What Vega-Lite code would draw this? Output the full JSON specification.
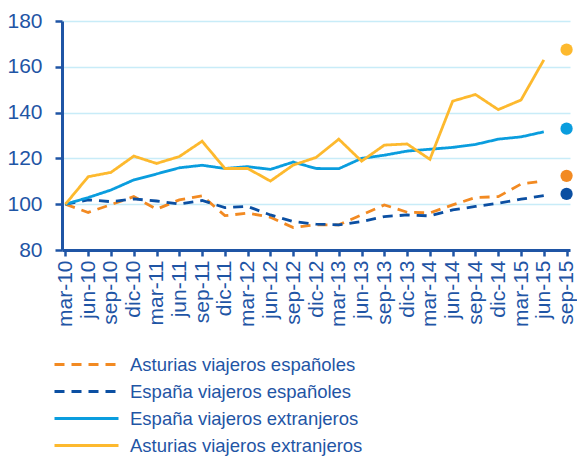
{
  "$schema": "https://vega.github.io/schema/vega-lite/v6.json",
  "autosize": {"type": "none"},
  "padding": {"left": 62, "top": 21, "right": 7, "bottom": 207},
  "width": 508,
  "height": 229,
  "background": "white",
  "config": {
    "view": {"stroke": null},
    "font": "Liberation Sans",
    "axis": {"labelFont": "Liberation Sans", "labelColor": "#1F55A5", "domainColor": "#1F55A5", "tickColor": "#1F55A5", "domainWidth": 3, "tickWidth": 2.5, "title": null}
  },
  "datasets": {
    "lines": [
      {"periodo": "mar-10", "serie": "Asturias viajeros españoles", "valor": 100},
      {"periodo": "jun-10", "serie": "Asturias viajeros españoles", "valor": 96.4},
      {"periodo": "sep-10", "serie": "Asturias viajeros españoles", "valor": 99.8},
      {"periodo": "dic-10", "serie": "Asturias viajeros españoles", "valor": 103.3},
      {"periodo": "mar-11", "serie": "Asturias viajeros españoles", "valor": 97.8},
      {"periodo": "jun-11", "serie": "Asturias viajeros españoles", "valor": 101.9},
      {"periodo": "sep-11", "serie": "Asturias viajeros españoles", "valor": 103.7},
      {"periodo": "dic-11", "serie": "Asturias viajeros españoles", "valor": 95},
      {"periodo": "mar-12", "serie": "Asturias viajeros españoles", "valor": 96.1},
      {"periodo": "jun-12", "serie": "Asturias viajeros españoles", "valor": 94.3},
      {"periodo": "sep-12", "serie": "Asturias viajeros españoles", "valor": 89.8},
      {"periodo": "dic-12", "serie": "Asturias viajeros españoles", "valor": 91},
      {"periodo": "mar-13", "serie": "Asturias viajeros españoles", "valor": 91},
      {"periodo": "jun-13", "serie": "Asturias viajeros españoles", "valor": 95.3},
      {"periodo": "sep-13", "serie": "Asturias viajeros españoles", "valor": 99.7},
      {"periodo": "dic-13", "serie": "Asturias viajeros españoles", "valor": 96.5},
      {"periodo": "mar-14", "serie": "Asturias viajeros españoles", "valor": 96.2},
      {"periodo": "jun-14", "serie": "Asturias viajeros españoles", "valor": 99.7},
      {"periodo": "sep-14", "serie": "Asturias viajeros españoles", "valor": 102.9},
      {"periodo": "dic-14", "serie": "Asturias viajeros españoles", "valor": 103.3},
      {"periodo": "mar-15", "serie": "Asturias viajeros españoles", "valor": 108.8},
      {"periodo": "jun-15", "serie": "Asturias viajeros españoles", "valor": 110.1},
      {"periodo": "mar-10", "serie": "España viajeros españoles", "valor": 100},
      {"periodo": "jun-10", "serie": "España viajeros españoles", "valor": 101.9},
      {"periodo": "sep-10", "serie": "España viajeros españoles", "valor": 101.1},
      {"periodo": "dic-10", "serie": "España viajeros españoles", "valor": 102.3},
      {"periodo": "mar-11", "serie": "España viajeros españoles", "valor": 101.4},
      {"periodo": "jun-11", "serie": "España viajeros españoles", "valor": 100.1},
      {"periodo": "sep-11", "serie": "España viajeros españoles", "valor": 101.6},
      {"periodo": "dic-11", "serie": "España viajeros españoles", "valor": 98.5},
      {"periodo": "mar-12", "serie": "España viajeros españoles", "valor": 99},
      {"periodo": "jun-12", "serie": "España viajeros españoles", "valor": 95.3},
      {"periodo": "sep-12", "serie": "España viajeros españoles", "valor": 92.4},
      {"periodo": "dic-12", "serie": "España viajeros españoles", "valor": 91.3},
      {"periodo": "mar-13", "serie": "España viajeros españoles", "valor": 91},
      {"periodo": "jun-13", "serie": "España viajeros españoles", "valor": 92.4},
      {"periodo": "sep-13", "serie": "España viajeros españoles", "valor": 94.6},
      {"periodo": "dic-13", "serie": "España viajeros españoles", "valor": 95.3},
      {"periodo": "mar-14", "serie": "España viajeros españoles", "valor": 94.9},
      {"periodo": "jun-14", "serie": "España viajeros españoles", "valor": 97.5},
      {"periodo": "sep-14", "serie": "España viajeros españoles", "valor": 99},
      {"periodo": "dic-14", "serie": "España viajeros españoles", "valor": 100.4},
      {"periodo": "mar-15", "serie": "España viajeros españoles", "valor": 102.2},
      {"periodo": "jun-15", "serie": "España viajeros españoles", "valor": 103.7},
      {"periodo": "mar-10", "serie": "España viajeros extranjeros", "valor": 100},
      {"periodo": "jun-10", "serie": "España viajeros extranjeros", "valor": 102.9},
      {"periodo": "sep-10", "serie": "España viajeros extranjeros", "valor": 106.2},
      {"periodo": "dic-10", "serie": "España viajeros extranjeros", "valor": 110.6},
      {"periodo": "mar-11", "serie": "España viajeros extranjeros", "valor": 113.2},
      {"periodo": "jun-11", "serie": "España viajeros extranjeros", "valor": 115.9},
      {"periodo": "sep-11", "serie": "España viajeros extranjeros", "valor": 117},
      {"periodo": "dic-11", "serie": "España viajeros extranjeros", "valor": 115.6},
      {"periodo": "mar-12", "serie": "España viajeros extranjeros", "valor": 116.4},
      {"periodo": "jun-12", "serie": "España viajeros extranjeros", "valor": 115.2},
      {"periodo": "sep-12", "serie": "España viajeros extranjeros", "valor": 118.4},
      {"periodo": "dic-12", "serie": "España viajeros extranjeros", "valor": 115.6},
      {"periodo": "mar-13", "serie": "España viajeros extranjeros", "valor": 115.5},
      {"periodo": "jun-13", "serie": "España viajeros extranjeros", "valor": 120},
      {"periodo": "sep-13", "serie": "España viajeros extranjeros", "valor": 121.4},
      {"periodo": "dic-13", "serie": "España viajeros extranjeros", "valor": 123.2},
      {"periodo": "mar-14", "serie": "España viajeros extranjeros", "valor": 124},
      {"periodo": "jun-14", "serie": "España viajeros extranjeros", "valor": 124.8},
      {"periodo": "sep-14", "serie": "España viajeros extranjeros", "valor": 126.1},
      {"periodo": "dic-14", "serie": "España viajeros extranjeros", "valor": 128.4},
      {"periodo": "mar-15", "serie": "España viajeros extranjeros", "valor": 129.4},
      {"periodo": "jun-15", "serie": "España viajeros extranjeros", "valor": 131.6},
      {"periodo": "mar-10", "serie": "Asturias viajeros extranjeros", "valor": 100},
      {"periodo": "jun-10", "serie": "Asturias viajeros extranjeros", "valor": 112},
      {"periodo": "sep-10", "serie": "Asturias viajeros extranjeros", "valor": 113.9},
      {"periodo": "dic-10", "serie": "Asturias viajeros extranjeros", "valor": 121},
      {"periodo": "mar-11", "serie": "Asturias viajeros extranjeros", "valor": 117.8},
      {"periodo": "jun-11", "serie": "Asturias viajeros extranjeros", "valor": 120.8},
      {"periodo": "sep-11", "serie": "Asturias viajeros extranjeros", "valor": 127.5},
      {"periodo": "dic-11", "serie": "Asturias viajeros extranjeros", "valor": 115.6},
      {"periodo": "mar-12", "serie": "Asturias viajeros extranjeros", "valor": 115.6},
      {"periodo": "jun-12", "serie": "Asturias viajeros extranjeros", "valor": 110.1},
      {"periodo": "sep-12", "serie": "Asturias viajeros extranjeros", "valor": 117.1},
      {"periodo": "dic-12", "serie": "Asturias viajeros extranjeros", "valor": 120.4},
      {"periodo": "mar-13", "serie": "Asturias viajeros extranjeros", "valor": 128.4},
      {"periodo": "jun-13", "serie": "Asturias viajeros extranjeros", "valor": 118.8},
      {"periodo": "sep-13", "serie": "Asturias viajeros extranjeros", "valor": 125.8},
      {"periodo": "dic-13", "serie": "Asturias viajeros extranjeros", "valor": 126.3},
      {"periodo": "mar-14", "serie": "Asturias viajeros extranjeros", "valor": 119.6},
      {"periodo": "jun-14", "serie": "Asturias viajeros extranjeros", "valor": 145},
      {"periodo": "sep-14", "serie": "Asturias viajeros extranjeros", "valor": 147.9},
      {"periodo": "dic-14", "serie": "Asturias viajeros extranjeros", "valor": 141.3},
      {"periodo": "mar-15", "serie": "Asturias viajeros extranjeros", "valor": 145.5},
      {"periodo": "jun-15", "serie": "Asturias viajeros extranjeros", "valor": 163}
    ],
    "dots": [
      {"periodo": "sep-15", "serie": "Asturias viajeros extranjeros", "valor": 167.5},
      {"periodo": "sep-15", "serie": "España viajeros extranjeros", "valor": 133},
      {"periodo": "sep-15", "serie": "Asturias viajeros españoles", "valor": 112.4},
      {"periodo": "sep-15", "serie": "España viajeros españoles", "valor": 104.5}
    ]
  },
  "encoding": {
    "x": {
      "field": "periodo", "type": "ordinal", "sort": null,
      "scale": {"type": "point", "padding": 0.15,
        "domain": ["mar-10","jun-10","sep-10","dic-10","mar-11","jun-11","sep-11","dic-11","mar-12","jun-12","sep-12","dic-12","mar-13","jun-13","sep-13","dic-13","mar-14","jun-14","sep-14","dic-14","mar-15","jun-15","sep-15"]},
      "axis": {"labelAngle": -90, "labelFontSize": 21, "tickSize": 6, "labelPadding": 4, "grid": false}
    },
    "y": {
      "field": "valor", "type": "quantitative",
      "scale": {"domain": [80, 180], "nice": false, "zero": false},
      "axis": {"values": [80, 100, 120, 140, 160, 180], "labelFontSize": 21, "tickSize": 7, "labelPadding": 13, "grid": true, "gridColor": "#C8ECF8", "gridWidth": 1.5}
    }
  },
  "layer": [
    {
      "data": {"name": "lines"},
      "mark": {"type": "line", "strokeWidth": 2.8},
      "encoding": {
        "color": {
          "field": "serie", "type": "nominal",
          "scale": {
            "domain": ["Asturias viajeros españoles", "España viajeros españoles", "España viajeros extranjeros", "Asturias viajeros extranjeros"],
            "range": ["#F28A22", "#0B4FA2", "#0A9DDE", "#FDB92E"]
          },
          "legend": {
            "title": null, "orient": "none", "legendX": -9, "legendY": 332, "direction": "vertical", "padding": 0,
            "symbolType": "M-1,0H5.4", "symbolSize": 400, "symbolStrokeWidth": 3,
            "labelFontSize": 18.5, "labelColor": "#1F55A5", "labelFont": "Liberation Sans",
            "labelOffset": 54, "rowPadding": 6, "labelLimit": 400
          }
        },
        "strokeDash": {
          "field": "serie", "type": "nominal",
          "scale": {
            "domain": ["Asturias viajeros españoles", "España viajeros españoles", "España viajeros extranjeros", "Asturias viajeros extranjeros"],
            "range": [[10, 7], [10, 7], [1, 0], [1, 0]]
          }
        }
      }
    },
    {
      "data": {"name": "dots"},
      "mark": {"type": "point", "filled": true, "size": 150, "opacity": 1, "shape": "circle"},
      "encoding": {
        "fill": {
          "field": "serie", "type": "nominal",
          "scale": {
            "domain": ["Asturias viajeros españoles", "España viajeros españoles", "España viajeros extranjeros", "Asturias viajeros extranjeros"],
            "range": ["#F28A22", "#0B4FA2", "#0A9DDE", "#FDB92E"]
          },
          "legend": null
        }
      }
    }
  ]
}
